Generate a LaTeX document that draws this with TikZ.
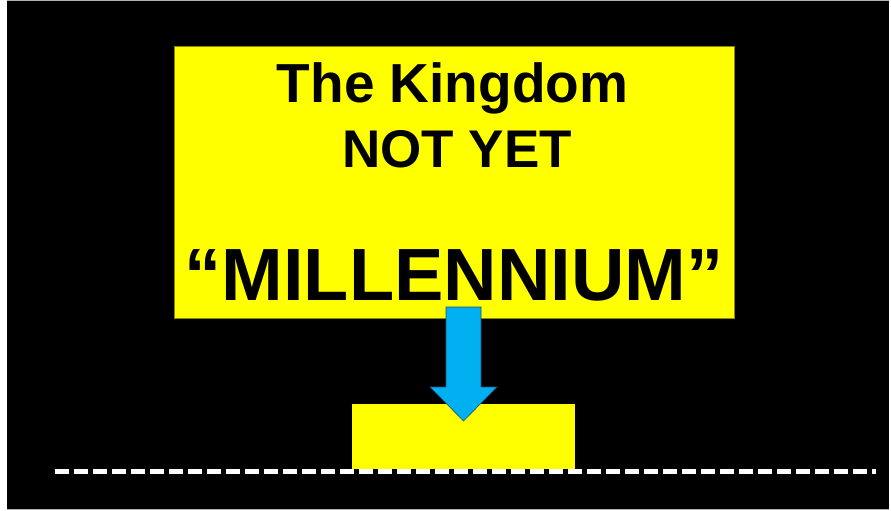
\documentclass[tikz,border=0pt]{standalone}
\usepackage{fontspec}
\setmainfont{Liberation Sans}
\definecolor{boxyellow}{HTML}{FFFF00}
\definecolor{boxedge}{HTML}{8A8A00}
\definecolor{arrowblue}{HTML}{00B0F0}
\definecolor{arrowedge}{HTML}{1F4E79}
\begin{document}
\begin{tikzpicture}[x=1pt,y=-1pt,
  yellowbox/.style={fill=boxyellow,draw=boxedge,line width=0.8pt},
  title/.style={anchor=base,inner sep=0pt,font=\bfseries\fontsize{55}{60}\selectfont},
  subtitle/.style={anchor=base,inner sep=0pt,font=\bfseries\fontsize{53}{58}\selectfont},
  bigtitle/.style={anchor=base,inner sep=0pt,font=\bfseries\fontsize{74}{80}\selectfont},
  ground/.style={draw=white,line width=5pt,dash pattern=on 14pt off 5pt}]
\useasboundingbox (0,0) rectangle (891,511);
\fill[white] (0,0) rectangle (891,511);
\fill[black] (7,0.5) rectangle (889,509.5);
\draw[gray!60,line width=1pt] (7,0.5) -- (889,0.5);
\draw[gray!60,line width=1pt] (7,509.5) -- (889,509.5);
% big yellow box
\draw[yellowbox] (174,46) rectangle (734,318);
\node[title] (t1) at (452.5,102) {The Kingdom};
\node[subtitle] (t2) at (457,167) {NOT YET};
\node[bigtitle] (t3) at (454,300) {“MILLENNIUM”};
% small yellow box
\fill[boxyellow] (352,404) rectangle (575,469);
\coordinate (s) at (463.5,404);
% arrow
\draw[fill=arrowblue,draw=arrowedge,line width=0.6pt,line join=miter]
  (446,307) -- (481,307) -- (481,387) -- (497,387) -- (463.5,421)
  -- (430,387) -- (446,387) -- cycle;
% dashed ground line
\coordinate (g1) at (55,471);
\coordinate (g2) at (876,471);
\draw[ground] (g1) -- (g2);
\end{tikzpicture}
\end{document}
